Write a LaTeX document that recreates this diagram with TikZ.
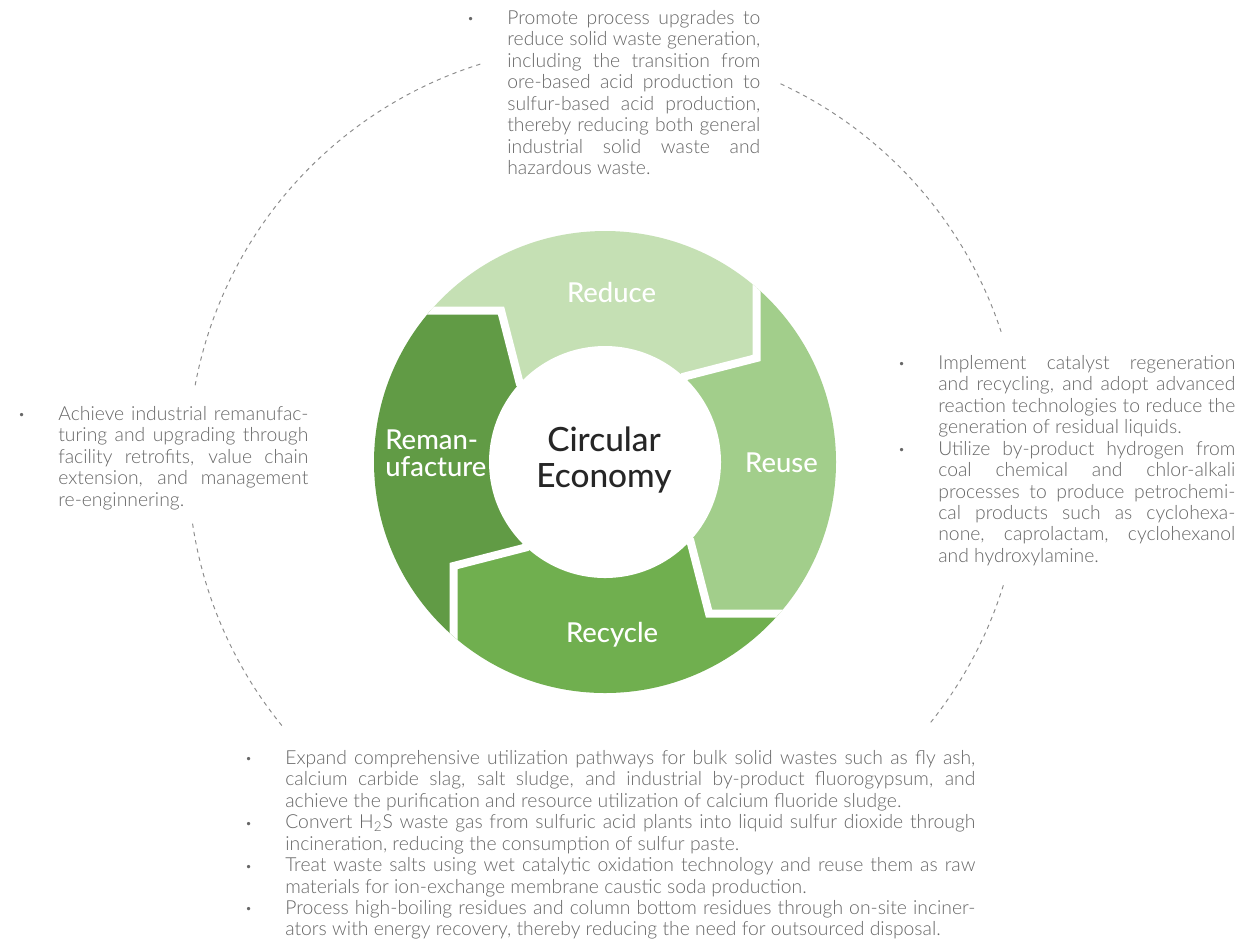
\documentclass[tikz,border=0pt]{standalone}
\usepackage{fontspec}
\setmainfont{Lato}
\IfFontExistsTF{Lato Light}{\newfontfamily\bodyfont{Lato Light}}{\newfontfamily\bodyfont{Lato}}
\IfFontExistsTF{Lato Medium}{\newfontfamily\labelfont{Lato Medium}}{\newfontfamily\labelfont{Lato}}

\definecolor{reduceC}{HTML}{C5E0B4}
\definecolor{reuseC}{HTML}{A2CE8B}
\definecolor{recycleC}{HTML}{70AF4F}
\definecolor{remanC}{HTML}{619B45}
\definecolor{bodygray}{HTML}{676767}
\definecolor{titlegray}{HTML}{262626}
\definecolor{dashgray}{HTML}{8C8C8C}

% lines are broken by hand, so no automatic hyphenation
\hyphenpenalty=10000
\exhyphenpenalty=10000
\tolerance=9999

% one bulleted paragraph with a hanging indent
\newcommand\bulletmark{\raisebox{0.9pt}{\fontsize{6.5}{6.5}\selectfont\textbullet}}
\newcommand\bulletitem[1]{\par\hangindent=0.8cm\hangafter=1\noindent\makebox[0.8cm][l]{\bulletmark}#1\par}

\tikzset{
  bodytext/.style={anchor=base west, inner sep=0pt, align=justify, text=bodygray,
    font=\bodyfont\fontsize{11}{12.2}\selectfont},
  seglabel/.style={text=white, inner sep=0pt, font=\labelfont\fontsize{15.6}{15.4}\selectfont},
  dashring/.style={draw=dashgray, line width=0.55pt, dash pattern=on 2.4pt off 2.4pt},
  gapline/.style={draw=white, line width=0.16cm, line join=miter},
}

\begin{document}
\begin{tikzpicture}[x=0.02cm, y=-0.02cm]
\fill[white] (0,0) rectangle (1239,941);
\useasboundingbox (0,0) rectangle (1239,941);

\begin{scope}[shift={(605,462)}]
  \coordinate (C) at (0,0);
  % boundaries between the arrow segments: far end, tip, inner end
  \coordinate (F0) at (151.5,-420); \coordinate (T0) at (151.5,-104); \coordinate (I0) at (78.7,-85.3);
  \coordinate (F1) at (420,151.5);  \coordinate (T1) at (104,151.5);  \coordinate (I1) at (85.3,78.7);
  \coordinate (F2) at (-151.5,420); \coordinate (T2) at (-151.5,104); \coordinate (I2) at (-78.7,85.3);
  \coordinate (F3) at (-420,-151.5);\coordinate (T3) at (-104,-151.5);\coordinate (I3) at (-85.3,-78.7);
  \coordinate (K0) at (420,-420); \coordinate (K1) at (420,420);
  \coordinate (K2) at (-420,420); \coordinate (K3) at (-420,-420);

  \begin{scope}
    \clip (0,0) circle[radius=231];
    \fill[reduceC]  (C) -- (I3) -- (T3) -- (F3) -- (K3) -- (F0) -- (T0) -- (I0) -- cycle;
    \fill[reuseC]   (C) -- (I0) -- (T0) -- (F0) -- (K0) -- (F1) -- (T1) -- (I1) -- cycle;
    \fill[recycleC] (C) -- (I1) -- (T1) -- (F1) -- (K1) -- (F2) -- (T2) -- (I2) -- cycle;
    \fill[remanC]   (C) -- (I2) -- (T2) -- (F2) -- (K2) -- (F3) -- (T3) -- (I3) -- cycle;
    \draw[gapline] (F0) -- (T0) -- (I0) -- (C);
    \draw[gapline] (F1) -- (T1) -- (I1) -- (C);
    \draw[gapline] (F2) -- (T2) -- (I2) -- (C);
    \draw[gapline] (F3) -- (T3) -- (I3) -- (C);
  \end{scope}
  \fill[white] (0,0) circle[radius=116];

  % dashed outer ring, broken where the texts stand
  \draw[dashring] (-107.4:417) arc[start angle=-107.4, end angle=-169.4, radius=417];
  \draw[dashring] (-65.1:417)  arc[start angle=-65.1,  end angle=-18.2,  radius=417];
  \draw[dashring] (17.2:417)   arc[start angle=17.2,   end angle=38.7,   radius=417];
  \draw[dashring] (140.8:417)  arc[start angle=140.8,  end angle=172.0,  radius=417];
\end{scope}

% ring labels
\node[seglabel, anchor=base] (reduce) at (611.5,302) {Reduce};
\node[seglabel, anchor=base] (reuse) at (781.5,472) {Reuse};
\node[seglabel, anchor=base] (recycle) at (612,642) {Recycle};
\node[seglabel, anchor=west, align=left] (reman) at (385,453) {Reman-\\ufacture};
\node[inner sep=0pt, align=center, text=titlegray, font=\labelfont\fontsize{19}{21}\selectfont]
  (core) at (604,460) {Circular\\Economy};

% descriptions
\node[bodytext, text width=5.86cm] (reduceTxt) at (467,3) {\bulletitem{Promote process upgrades to\linebreak
reduce solid waste generation,\linebreak
including the transition from\linebreak
ore-based acid production to\linebreak
sulfur-based acid production,\linebreak
thereby reducing both general\linebreak
industrial solid waste and\linebreak
hazardous waste.}};

\node[bodytext, text width=6.74cm] (reuseTxt) at (898,348) {\bulletitem{Implement catalyst regeneration\linebreak
and recycling, and adopt advanced\linebreak
reaction technologies to reduce the\linebreak
generation of residual liquids.}%
\bulletitem{Utilize by-product hydrogen from\linebreak
coal chemical and chlor-alkali\linebreak
processes to produce petrochemi-\linebreak
cal products such as cyclohexa-\linebreak
none, caprolactam, cyclohexanol\linebreak
and hydroxylamine.}};

\node[bodytext, text width=5.80cm] (remanTxt) at (18,399) {\bulletitem{Achieve industrial remanufac-\linebreak
turing and upgrading through\linebreak
facility retrofits, value chain\linebreak
extension, and management\linebreak
re-enginnering.}};

\node[bodytext, text width=14.6cm] (recycleTxt) at (245,743) {\bulletitem{Expand comprehensive utilization pathways for bulk solid wastes such as fly ash,\linebreak
calcium carbide slag, salt sludge, and industrial by-product fluorogypsum, and\linebreak
achieve the purification and resource utilization of calcium fluoride sludge.}%
\bulletitem{Convert H\textsubscript{2}S waste gas from sulfuric acid plants into liquid sulfur dioxide through\linebreak
incineration, reducing the consumption of sulfur paste.}%
\bulletitem{Treat waste salts using wet catalytic oxidation technology and reuse them as raw\linebreak
materials for ion-exchange membrane caustic soda production.}%
\bulletitem{Process high-boiling residues and column bottom residues through on-site inciner-\linebreak
ators with energy recovery, thereby reducing the need for outsourced disposal.}};
\end{tikzpicture}
\end{document}
